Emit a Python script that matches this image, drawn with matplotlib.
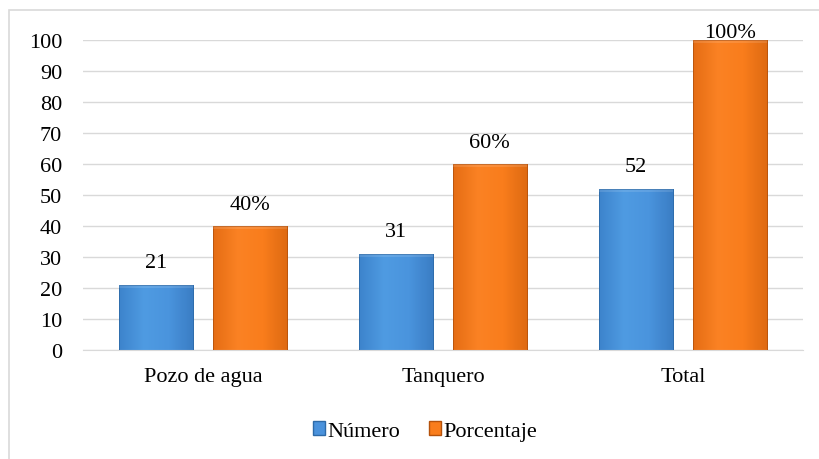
import numpy as np
import matplotlib.pyplot as plt
from matplotlib.patches import Rectangle
from matplotlib.colors import LinearSegmentedColormap

categorias = ['Pozo de agua', 'Tanquero', 'Total']
numero = [21, 31, 52]
porcentaje = [40, 60, 100]
etiq_pct = ['40%', '60%', '100%']

plt.rcParams['font.family'] = 'serif'
plt.rcParams['font.serif'] = ['Liberation Serif', 'DejaVu Serif']
fs = 16

fig = plt.figure(figsize=(8.2, 4.6), dpi=100)
ax = fig.add_axes([83/820, 109/460, 720/820, 310/460])

# marco gris claro del grafico
fig.patches.append(Rectangle((9/820, -0.05), 1.2, (460-11)/460 + 0.05,
                             transform=fig.transFigure, fill=False,
                             edgecolor='#d9d9d9', lw=1.2))

azul = LinearSegmentedColormap.from_list('az', ['#3d84cc', '#4f9be2', '#4a94dd', '#3a7dc4'])
naranja = LinearSegmentedColormap.from_list('na', ['#e56d14', '#fb8224', '#f97d1c', '#de6a12'])

x = np.arange(len(categorias))
ancho = 0.31
off = 0.195

def barras(pos, vals, cmap, borde):
    bars = ax.bar(pos, vals, ancho, color='none', edgecolor=borde, lw=0.6, zorder=3)
    grad = np.linspace(0, 1, 64).reshape(1, -1)
    for b in bars:
        x0, w, h = b.get_x(), b.get_width(), b.get_height()
        im = ax.imshow(grad, cmap=cmap, extent=[x0, x0 + w, 0, h], aspect='auto', zorder=2)
        im.set_clip_path(b)
        # bisel superior
        ax.add_patch(Rectangle((x0, h - 1.0), w, 1.0, color='white', alpha=0.12, lw=0, zorder=3))
    return bars

b1 = barras(x - off, numero, azul, '#2d6aa8')
b2 = barras(x + off, porcentaje, naranja, '#b5520c')

for xi, v in zip(x - off, numero):
    ax.text(xi, v + 4, str(v), ha='center', va='bottom', fontsize=fs)
for xi, v, t in zip(x + off, porcentaje, etiq_pct):
    ax.text(xi, v + 4 if v < 100 else v - 0.8, t, ha='center', va='bottom', fontsize=fs, clip_on=False)

ax.set_xlim(-0.5, 2.5)
ax.set_ylim(0, 100)
ax.set_yticks(range(0, 101, 10))
ax.set_xticks(x)
ax.set_xticklabels(categorias)
ax.tick_params(axis='both', length=0, labelsize=fs)
ax.tick_params(axis='y', pad=15)
ax.tick_params(axis='x', pad=12)
ax.grid(axis='y', color='#d9d9d9', lw=1, zorder=0)
for s in ['top', 'right', 'left']:
    ax.spines[s].set_visible(False)
ax.spines['bottom'].set_color('#d9d9d9')

h1 = Rectangle((0, 0), 1, 1, facecolor='#4a92dc', edgecolor='#2d6aa8')
h2 = Rectangle((0, 0), 1, 1, facecolor='#f97d1c', edgecolor='#b5520c')
fig.legend([h1, h2], ['Número', 'Porcentaje'], loc='center', bbox_to_anchor=(425/820, 1 - 432/460),
           ncol=2, frameon=False, fontsize=fs, handlelength=0.55, handleheight=0.55,
           handletextpad=0.1, columnspacing=1.3)

fig.savefig('out.png', dpi=100)
